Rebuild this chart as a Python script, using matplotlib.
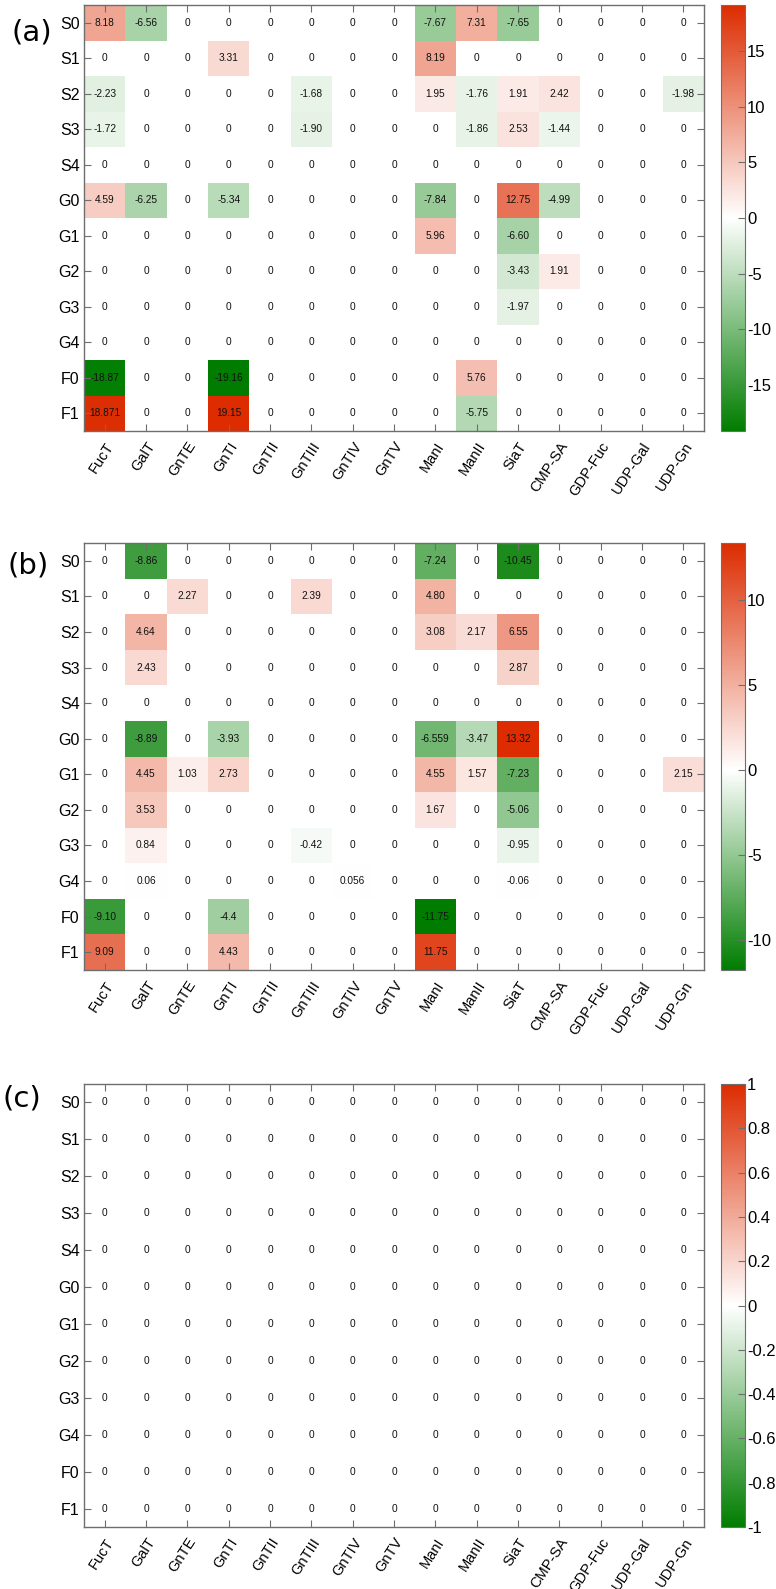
import numpy as np
import matplotlib
matplotlib.use('Agg')
import matplotlib.pyplot as plt
from matplotlib.colors import LinearSegmentedColormap, Normalize
from matplotlib.ticker import MultipleLocator, FuncFormatter

plt.rcParams['font.family'] = ['Liberation Sans', 'DejaVu Sans']
plt.rcParams['axes.unicode_minus'] = False

rows = ['S0', 'S1', 'S2', 'S3', 'S4', 'G0', 'G1', 'G2', 'G3', 'G4', 'F0', 'F1']
cols = ['FucT', 'GalT', 'GnTE', 'GnTI', 'GnTII', 'GnTIII', 'GnTIV', 'GnTV',
        'ManI', 'ManII', 'SiaT', 'CMP-SA', 'GDP-Fuc', 'UDP-Gal', 'UDP-Gn']

panel_a = [
    ['8.18', '-6.56', '0', '0', '0', '0', '0', '0', '-7.67', '7.31', '-7.65', '0', '0', '0', '0'],
    ['0', '0', '0', '3.31', '0', '0', '0', '0', '8.19', '0', '0', '0', '0', '0', '0'],
    ['-2.23', '0', '0', '0', '0', '-1.68', '0', '0', '1.95', '-1.76', '1.91', '2.42', '0', '0', '-1.98'],
    ['-1.72', '0', '0', '0', '0', '-1.90', '0', '0', '0', '-1.86', '2.53', '-1.44', '0', '0', '0'],
    ['0', '0', '0', '0', '0', '0', '0', '0', '0', '0', '0', '0', '0', '0', '0'],
    ['4.59', '-6.25', '0', '-5.34', '0', '0', '0', '0', '-7.84', '0', '12.75', '-4.99', '0', '0', '0'],
    ['0', '0', '0', '0', '0', '0', '0', '0', '5.96', '0', '-6.60', '0', '0', '0', '0'],
    ['0', '0', '0', '0', '0', '0', '0', '0', '0', '0', '-3.43', '1.91', '0', '0', '0'],
    ['0', '0', '0', '0', '0', '0', '0', '0', '0', '0', '-1.97', '0', '0', '0', '0'],
    ['0', '0', '0', '0', '0', '0', '0', '0', '0', '0', '0', '0', '0', '0', '0'],
    ['-18.87', '0', '0', '-19.16', '0', '0', '0', '0', '0', '5.76', '0', '0', '0', '0', '0'],
    ['18.871', '0', '0', '19.15', '0', '0', '0', '0', '0', '-5.75', '0', '0', '0', '0', '0'],
]

panel_b = [
    ['0', '-8.86', '0', '0', '0', '0', '0', '0', '-7.24', '0', '-10.45', '0', '0', '0', '0'],
    ['0', '0', '2.27', '0', '0', '2.39', '0', '0', '4.80', '0', '0', '0', '0', '0', '0'],
    ['0', '4.64', '0', '0', '0', '0', '0', '0', '3.08', '2.17', '6.55', '0', '0', '0', '0'],
    ['0', '2.43', '0', '0', '0', '0', '0', '0', '0', '0', '2.87', '0', '0', '0', '0'],
    ['0', '0', '0', '0', '0', '0', '0', '0', '0', '0', '0', '0', '0', '0', '0'],
    ['0', '-8.89', '0', '-3.93', '0', '0', '0', '0', '-6.559', '-3.47', '13.32', '0', '0', '0', '0'],
    ['0', '4.45', '1.03', '2.73', '0', '0', '0', '0', '4.55', '1.57', '-7.23', '0', '0', '0', '2.15'],
    ['0', '3.53', '0', '0', '0', '0', '0', '0', '1.67', '0', '-5.06', '0', '0', '0', '0'],
    ['0', '0.84', '0', '0', '0', '-0.42', '0', '0', '0', '0', '-0.95', '0', '0', '0', '0'],
    ['0', '0.06', '0', '0', '0', '0', '0.056', '0', '0', '0', '-0.06', '0', '0', '0', '0'],
    ['-9.10', '0', '0', '-4.4', '0', '0', '0', '0', '-11.75', '0', '0', '0', '0', '0', '0'],
    ['9.09', '0', '0', '4.43', '0', '0', '0', '0', '11.75', '0', '0', '0', '0', '0', '0'],
]

panel_c = [['0'] * 15 for _ in range(12)]

panel_labels = ['(a)', '(b)', '(c)']
cbar_steps = [5, 5, 0.2]

GREEN = '#007d00'
RED = '#dc2c00'
SPINE = '#6e6e6e'

W, H = 776, 1589
fig = plt.figure(figsize=(W / 100, H / 100), dpi=100)

# layout in pixels: (top, bottom) of each heatmap
ax_left, ax_right = 84, 704
cb_left, cb_right = 721, 745
boxes = [(5, 431), (543, 970), (1084, 1527)]
label_pos = [(32, 33), (28, 565), (22, 1098)]


def fx(px):
    return px / W


def fy(py):
    return 1 - py / H


def fmt(v, pos):
    if abs(v - round(v)) < 1e-9:
        return '%d' % round(v)
    return ('%.1f' % v)


for data, lab, step, (top, bot), (lx, ly) in zip(
        [panel_a, panel_b, panel_c], panel_labels, cbar_steps, boxes, label_pos):
    vals = np.array([[float(s) for s in r] for r in data])
    vmin, vmax = vals.min(), vals.max()
    if vmin == vmax:
        vmin, vmax = -1.0, 1.0
    f = -vmin / (vmax - vmin)
    cmap = LinearSegmentedColormap.from_list(
        'gwr', [(0.0, GREEN), (f, '#ffffff'), (1.0, RED)], N=512)
    norm = Normalize(vmin=vmin, vmax=vmax)

    ax = fig.add_axes([fx(ax_left), fy(bot), fx(ax_right - ax_left), (bot - top) / H])
    mesh = ax.pcolormesh(np.arange(len(cols) + 1) - 0.5, np.arange(len(rows) + 1) - 0.5,
                         vals, cmap=cmap, norm=norm, shading='flat')
    ax.set_xlim(-0.5, len(cols) - 0.5)
    ax.set_ylim(len(rows) - 0.5, -0.5)
    for i in range(len(rows)):
        for j in range(len(cols)):
            ax.text(j, i, data[i][j], ha='center', va='center', fontsize=7.3, color='#111111')
    ax.set_xticks(np.arange(len(cols)))
    ax.set_yticks(np.arange(len(rows)))
    ax.set_xticklabels(cols, rotation=57, ha='right', rotation_mode='anchor', fontsize=10.5)
    ax.set_yticklabels(rows, fontsize=11.5)
    ax.tick_params(axis='both', direction='in', length=5, width=0.8, color=SPINE,
                   top=True, right=True, bottom=True, left=True)
    ax.tick_params(axis='x', pad=6)
    ax.tick_params(axis='y', pad=3)
    for sp in ax.spines.values():
        sp.set_color(SPINE)
        sp.set_linewidth(1.0)

    cax = fig.add_axes([fx(cb_left), fy(bot), fx(cb_right - cb_left), (bot - top) / H])
    cb = fig.colorbar(mesh, cax=cax)
    cb.outline.set_edgecolor(SPINE)
    cb.outline.set_linewidth(0.8)
    cax.yaxis.set_major_locator(MultipleLocator(step))
    cax.yaxis.set_major_formatter(FuncFormatter(fmt))
    cax.tick_params(direction='in', length=5, width=0.8, color=SPINE, labelsize=12, pad=1.5)

    fig.text(fx(lx), fy(ly), lab, ha='center', va='center', fontsize=21,
             family='DejaVu Sans')

fig.savefig('out.png', dpi=100)
